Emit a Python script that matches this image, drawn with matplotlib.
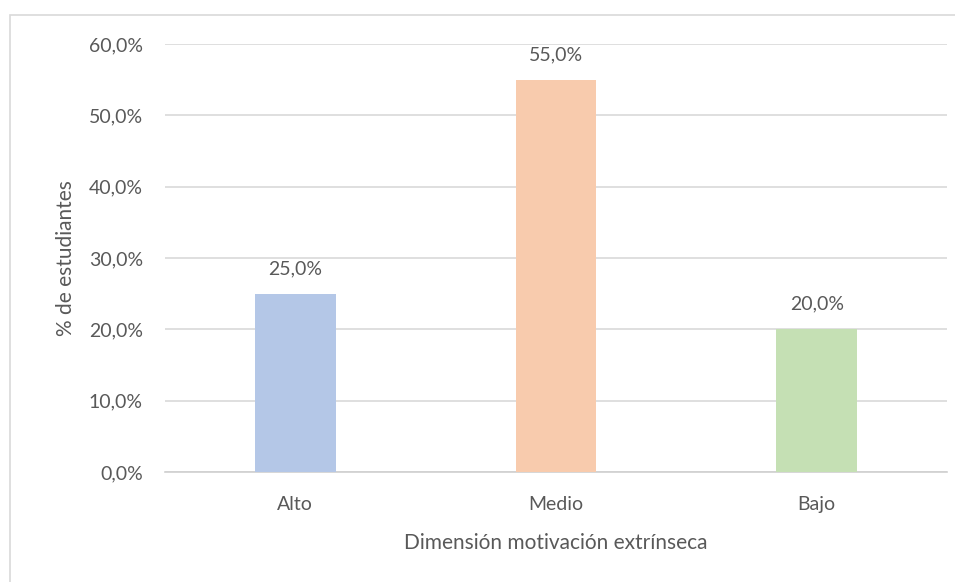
import matplotlib
matplotlib.use('Agg')
import matplotlib.pyplot as plt
from matplotlib.patches import Rectangle
from matplotlib.ticker import FuncFormatter

plt.rc('font', family=['Lato', 'DejaVu Sans'], size=14)

categorias = ['Alto', 'Medio', 'Bajo']
porcentajes = [25.0, 55.0, 20.0]
colores = ['#b4c7e7', '#f8cbad', '#c5e0b4']
yticks = [0, 10, 20, 30, 40, 50, 60]

gris = '#595959'


def fmt_pct(v, pos=None):
    return f'{v:.1f}%'.replace('.', ',')


fig = plt.figure(figsize=(9.55, 5.82), dpi=100)
ax = fig.add_axes([165 / 955, 1 - 472 / 582, 782 / 955, 428 / 582])

# marco del grafico
fig.patches.append(Rectangle((10 / 955, -0.05), 1.0, 1 - 15 / 582 + 0.05,
                             transform=fig.transFigure, fill=False,
                             edgecolor='#d9d9d9', lw=1.2))

x = range(len(categorias))
barras = ax.bar(x, porcentajes, width=0.31, color=colores, zorder=3)
for b, v in zip(barras, porcentajes):
    ax.annotate(fmt_pct(v), (b.get_x() + b.get_width() / 2, v),
                xytext=(0, 18), textcoords='offset points',
                ha='center', va='center', color=gris, fontsize=14)

ax.set_xlim(-0.5, 2.5)
ax.set_ylim(0, 60)
ax.set_yticks(yticks)
ax.yaxis.set_major_formatter(FuncFormatter(fmt_pct))
ax.set_xticks(list(x))
ax.set_xticklabels(categorias)
ax.grid(axis='y', color='#d9d9d9', lw=1.2, zorder=0)
ax.tick_params(length=0, colors=gris, labelsize=14)
ax.tick_params(axis='y', pad=16)
ax.tick_params(axis='x', pad=17)
for s in ['top', 'right', 'left']:
    ax.spines[s].set_visible(False)
ax.spines['bottom'].set_color('#d0d0d0')
ax.spines['bottom'].set_linewidth(1.2)

ax.set_xlabel('Dimensión motivación extrínseca', color=gris, fontsize=15, labelpad=15)
ax.set_ylabel('% de estudiantes', color=gris, fontsize=15, labelpad=9)

fig.savefig('out.png', dpi=100)
